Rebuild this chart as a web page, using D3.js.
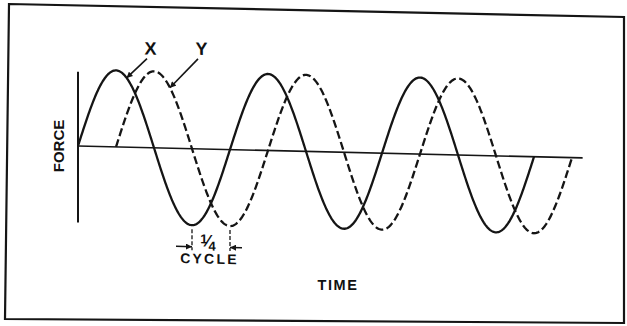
<!DOCTYPE html>
<html>
<head>
<meta charset="utf-8">
<script src="https://cdn.jsdelivr.net/npm/d3@7"></script>
<style>
  html, body { margin: 0; padding: 0; background: #fff; }
  svg { display: block; }
  text { font-family: "Liberation Sans", Arial, sans-serif; font-weight: bold; fill: #111; }
</style>
</head>
<body>
<svg id="chart" width="627" height="326"></svg>
<script>
// Two forces of equal size, Y lagging X by a quarter cycle.
const seriesNames   = ["X", "Y"];
const seriesStart   = [0, 0.25];      // start time, in cycles
const seriesCycles  = [3, 3];         // number of full cycles drawn
const seriesAmp     = [1, 1];         // peak force (relative)
const seriesDash    = [null, "8,3.5"];
const leaderAt      = [0.32, 0.605];  // time where each label's pointer meets its curve
const timeAxisEnd   = 3.32;           // length of the time axis, in cycles
const forceAxis     = [-1, 0.97];     // extent of the force axis
const axisTitles    = { x: "TIME", y: "FORCE" };
const spanLabel     = [["1", "\u2044", "4"], "CYCLE"];

const svg = d3.select("#chart");
const ink = "#151515";

// Outer frame
const frame = [[9, 4], [624, 17], [624, 323], [5, 319]];
svg.append("path")
  .attr("d", d3.line()(frame) + "Z")
  .attr("fill", "none")
  .attr("stroke", ink)
  .attr("stroke-width", 2.2);

// Plot group; slight skew so the time axis runs a little downhill
const g = svg.append("g").attr("transform", "translate(78,146) skewY(1.35)");

const x = d3.scaleLinear().domain([0, 3]).range([0, 456]);
const y = d3.scaleLinear().domain([-1, 1]).range([76.5, -76.5]);

const defs = svg.append("defs");
defs.append("marker")
  .attr("id", "head")
  .attr("viewBox", "0 0 10 10")
  .attr("refX", 10).attr("refY", 5)
  .attr("markerWidth", 7).attr("markerHeight", 6)
  .attr("markerUnits", "userSpaceOnUse")
  .attr("orient", "auto")
  .append("path").attr("d", "M0,0L10,5L0,10Z").attr("fill", ink);

// Axes
g.append("line")
  .attr("x1", x(0)).attr("x2", x(timeAxisEnd))
  .attr("y1", y(0)).attr("y2", y(0))
  .attr("stroke", ink).attr("stroke-width", 1.6);
g.append("line")
  .attr("x1", x(0)).attr("x2", x(0))
  .attr("y1", y(forceAxis[0])).attr("y2", y(forceAxis[1]))
  .attr("stroke", ink).attr("stroke-width", 2);

// Curves
const valueAt = (i, t) => seriesAmp[i] * Math.sin(2 * Math.PI * (t - seriesStart[i]));
const line = d3.line().x(d => x(d[0])).y(d => y(d[1]));

seriesNames.forEach((name, i) => {
  const t0 = seriesStart[i], t1 = t0 + seriesCycles[i];
  const pts = d3.range(0, 601).map(k => {
    const t = t0 + (t1 - t0) * k / 600;
    return [t, valueAt(i, t)];
  });
  g.append("path")
    .attr("d", line(pts))
    .attr("fill", "none")
    .attr("stroke", ink)
    .attr("stroke-width", 2.3)
    .attr("stroke-dasharray", seriesDash[i]);
});

// Series labels with pointers
const labelPos = [[72.5, -93], [123.5, -94]];
seriesNames.forEach((name, i) => {
  const [lx, ly] = labelPos[i];
  g.append("text")
    .attr("x", lx).attr("y", ly)
    .attr("text-anchor", "middle")
    .attr("font-size", 18)
    .text(name);
  const tx = x(leaderAt[i]), ty = y(valueAt(i, leaderAt[i]));
  g.append("line")
    .attr("x1", lx - 3.5).attr("y1", ly + 4)
    .attr("x2", tx).attr("y2", ty)
    .attr("stroke", ink).attr("stroke-width", 1.6)
    .attr("marker-end", "url(#head)");
});

// Quarter-cycle span between the first troughs of X and Y
const troughX = seriesStart[0] + 0.75, troughY = seriesStart[1] + 0.75;
const tickTop = y(-1) + 4, tickBot = y(-1) + 25, arrowY = y(-1) + 21.5;
[troughX, troughY].forEach(t => {
  g.append("line")
    .attr("x1", x(t)).attr("x2", x(t))
    .attr("y1", tickTop).attr("y2", tickBot)
    .attr("stroke", ink).attr("stroke-width", 1.3)
    .attr("stroke-dasharray", "4,2");
});
g.append("line")
  .attr("x1", x(troughX) - 16).attr("x2", x(troughX))
  .attr("y1", arrowY).attr("y2", arrowY)
  .attr("stroke", ink).attr("stroke-width", 1.5)
  .attr("marker-end", "url(#head)");
g.append("line")
  .attr("x1", x(troughY) + 12).attr("x2", x(troughY))
  .attr("y1", arrowY).attr("y2", arrowY)
  .attr("stroke", ink).attr("stroke-width", 1.5)
  .attr("marker-end", "url(#head)");
const midX = (x(troughX) + x(troughY)) / 2 - 3;
const frac = g.append("text")
  .attr("x", midX).attr("y", y(-1) + 24)
  .attr("text-anchor", "middle");
frac.append("tspan").attr("font-size", 13).attr("dy", -6).text(spanLabel[0][0]);
frac.append("tspan").attr("font-size", 17).attr("dy", 3).attr("dx", -1).text(spanLabel[0][1]);
frac.append("tspan").attr("font-size", 13).attr("dy", 4).attr("dx", -1).text(spanLabel[0][2]);
g.append("text")
  .attr("x", midX + 1.5).attr("y", y(-1) + 38)
  .attr("text-anchor", "middle")
  .attr("font-size", 14)
  .attr("letter-spacing", 2.2)
  .text(spanLabel[1]);

// Axis titles
svg.append("text")
  .attr("transform", "translate(64,146) rotate(-90)")
  .attr("text-anchor", "middle")
  .attr("font-size", 15)
  .text(axisTitles.y);
svg.append("text")
  .attr("x", 338).attr("y", 290)
  .attr("text-anchor", "middle")
  .attr("font-size", 14.5)
  .attr("letter-spacing", 1.6)
  .text(axisTitles.x);
</script>
</body>
</html>
